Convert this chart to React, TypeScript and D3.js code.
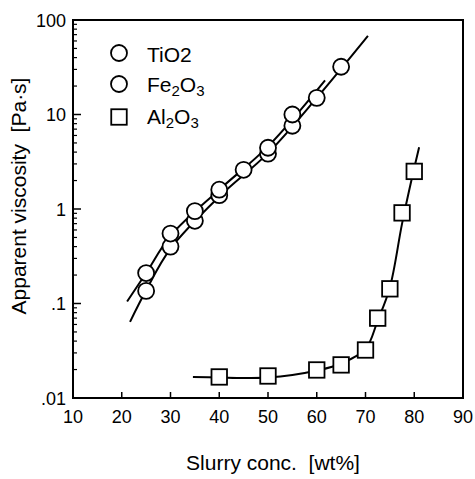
import React from "react";
import * as d3 from "d3";

// Measured points
const tio2X = [25, 30, 35, 40, 45, 50, 55, 60, 65];
const tio2Y = [0.136, 0.4, 0.75, 1.4, 2.6, 3.85, 7.6, 15, 32];
const fe2o3X = [25, 30, 35, 40, 50, 55];
const fe2o3Y = [0.21, 0.55, 0.95, 1.6, 4.45, 10];
const al2o3X = [40, 50, 60, 65, 70, 72.5, 75, 77.5, 80];
const al2o3Y = [0.0167, 0.0171, 0.0198, 0.0224, 0.0322, 0.07, 0.143, 0.91, 2.5];

// Fitted curves
const tio2FitX = [21.7, 25, 30, 40, 50, 60, 70.5];
const tio2FitY = [0.064, 0.138, 0.38, 1.35, 3.9, 15, 68];
const fe2o3FitX = [21.1, 25, 30, 40, 50, 61.7];
const fe2o3FitY = [0.105, 0.21, 0.52, 1.6, 4.6, 23];
const al2o3FitX = [34.6, 40, 45, 50, 55, 60, 65, 70, 72.5, 75, 77.5, 79.5, 81];
const al2o3FitY = [0.0167, 0.0165, 0.0163, 0.0165, 0.0175, 0.0195, 0.0232, 0.033, 0.066, 0.148, 0.7, 2.1, 4.5];

const xTicks = [10, 20, 30, 40, 50, 60, 70, 80, 90];
const yTicks = [0.01, 0.1, 1, 10, 100];
const yTickLabels = [".01", ".1", "1", "10", "100"];

const FONT = "'Liberation Sans', Arial, Helvetica, sans-serif";

export default function App() {
  const L = 73, R = 463, T = 20, B = 398;
  const x = d3.scaleLinear().domain([10, 90]).range([L, R]);
  const y = d3.scaleLog().domain([0.01, 100]).range([B, T]);

  const line = (xs: number[], ys: number[]) =>
    d3.line<number>()
      .x((_, i) => x(xs[i]))
      .y((_, i) => y(ys[i]))
      .curve(d3.curveCatmullRom.alpha(0.5))(ys) || "";

  const minor: number[] = [];
  for (let e = -2; e < 2; e++) {
    for (let k = 2; k <= 9; k++) minor.push(k * Math.pow(10, e));
  }

  const r = 8;
  const sq = 15.5;

  return (
    <svg width={475} height={479} style={{ position: "absolute", left: 0, top: 0, background: "#fff" }}>
      <rect x={0} y={0} width={475} height={479} fill="#fff" />
      {/* frame */}
      <rect x={L} y={T} width={R - L} height={B - T} fill="none" stroke="#000" strokeWidth={2} />
      {/* y ticks */}
      {yTicks.map((t) => (
        <line key={"yt" + t} x1={L} x2={L + 8} y1={y(t)} y2={y(t)} stroke="#000" strokeWidth={1.5} />
      ))}
      {minor.map((t) => (
        <line key={"ym" + t} x1={L} x2={L + 4} y1={y(t)} y2={y(t)} stroke="#000" strokeWidth={1.2} />
      ))}
      {yTicks.map((t, i) => (
        <text key={"yl" + t} x={L - 7} y={y(t) + 6.5} textAnchor="end" fontFamily={FONT} fontSize={18}>
          {yTickLabels[i]}
        </text>
      ))}
      {/* x ticks */}
      {xTicks.map((t) => (
        <g key={"xt" + t}>
          {t > 10 && t < 90 && (
            <line x1={x(t)} x2={x(t)} y1={B} y2={B - 6} stroke="#000" strokeWidth={1.5} />
          )}
          <text x={x(t)} y={B + 25} textAnchor="middle" fontFamily={FONT} fontSize={18}>
            {t}
          </text>
        </g>
      ))}
      {/* axis titles */}
      <text x={273} y={470} textAnchor="middle" fontFamily={FONT} fontSize={21}>
        Slurry conc.{"\u00a0\u00a0"}[wt%]
      </text>
      <text
        transform={`translate(26, 196) rotate(-90)`}
        textAnchor="middle"
        fontFamily={FONT}
        fontSize={21}
      >
        Apparent viscosity{"\u00a0\u00a0"}[Pa·s]
      </text>
      {/* curves */}
      <path d={line(tio2FitX, tio2FitY)} fill="none" stroke="#000" strokeWidth={2} />
      <path d={line(fe2o3FitX, fe2o3FitY)} fill="none" stroke="#000" strokeWidth={2} />
      <path d={line(al2o3FitX, al2o3FitY)} fill="none" stroke="#000" strokeWidth={2} />
      {/* markers */}
      {tio2Y.map((v, i) => (
        <circle key={"ti" + i} cx={x(tio2X[i])} cy={y(v)} r={r} fill="#fff" stroke="#000" strokeWidth={1.8} />
      ))}
      {fe2o3Y.map((v, i) => (
        <circle key={"fe" + i} cx={x(fe2o3X[i])} cy={y(v)} r={r} fill="#fff" stroke="#000" strokeWidth={1.8} />
      ))}
      {al2o3Y.map((v, i) => (
        <rect key={"al" + i} x={x(al2o3X[i]) - sq / 2} y={y(v) - sq / 2} width={sq} height={sq} fill="#fff" stroke="#000" strokeWidth={1.8} />
      ))}
      {/* legend */}
      <circle cx={119} cy={53} r={r} fill="#fff" stroke="#000" strokeWidth={1.8} />
      <text x={147} y={62} fontFamily={FONT} fontSize={21}>TiO2</text>
      <circle cx={119} cy={84} r={r} fill="#fff" stroke="#000" strokeWidth={1.8} />
      <text x={147} y={92} fontFamily={FONT} fontSize={21}>
        Fe<tspan fontSize={15} dy={4}>2</tspan><tspan dy={-4}>O</tspan><tspan fontSize={15} dy={4}>3</tspan>
      </text>
      <rect x={119 - sq / 2} y={117 - sq / 2} width={sq} height={sq} fill="#fff" stroke="#000" strokeWidth={1.8} />
      <text x={147} y={124} fontFamily={FONT} fontSize={21}>
        Al<tspan fontSize={15} dy={4}>2</tspan><tspan dy={-4}>O</tspan><tspan fontSize={15} dy={4}>3</tspan>
      </text>
    </svg>
  );
}
